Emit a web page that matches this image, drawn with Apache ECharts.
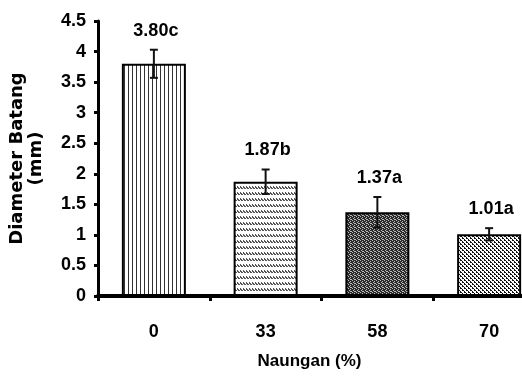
<!DOCTYPE html>
<html>
<head>
<meta charset="utf-8">
<script src="https://cdn.jsdelivr.net/npm/echarts@6/dist/echarts.min.js"></script>
<style>html,body{margin:0;padding:0;background:#fff;overflow:hidden}#c{width:545px;height:378px}</style>
</head>
<body>
<div id="c"></div>
<script>
var categories = ['0', '33', '58', '70'];
var means = [3.80, 1.87, 1.37, 1.01];
var errors = [0.23, 0.20, 0.25, 0.10];
var letters = ['c', 'b', 'a', 'a'];
var yTicks = [0, 0.5, 1, 1.5, 2, 2.5, 3, 3.5, 4, 4.5];

var FONT = 'Liberation Sans';

function makePattern(w, h, bg, fg, pts) {
  var c = document.createElement('canvas');
  c.width = w; c.height = h;
  var g = c.getContext('2d');
  g.fillStyle = bg; g.fillRect(0, 0, w, h);
  g.fillStyle = fg;
  pts.forEach(function (p) { g.fillRect(p[0], p[1], 1, 1); });
  return { image: c, repeat: 'repeat' };
}
var patterns = [
  makePattern(4, 4, '#ffffff', '#333333', [[0,0],[0,1],[0,2],[0,3]]),
  makePattern(3, 6, '#ffffff', '#555555', [[0,0],[1,1],[2,2],[0,1],[1,2]]),
  makePattern(4, 4, '#2a2a2a', '#bbbbbb', [[0,0],[2,1],[1,2],[3,3],[2,3]]),
  makePattern(4, 4, '#ffffff', '#111111', [[0,0],[1,0],[2,1],[2,2],[3,2],[0,3]])
];

var barData = means.map(function (v, i) {
  return { value: v, itemStyle: { color: patterns[i] } };
});
var errData = means.map(function (v, i) {
  return [i, v, errors[i], v.toFixed(2) + letters[i]];
});

var chart = echarts.init(document.getElementById('c'), null, { renderer: 'canvas' });
chart.setOption({
  animation: false,
  backgroundColor: '#ffffff',
  grid: { left: 97, right: 0, top: 21, bottom: 82, containLabel: false },
  xAxis: {
    type: 'category',
    data: categories,
    name: 'Naungan (%)',
    nameLocation: 'middle',
    nameGap: 57,
    nameTextStyle: { fontFamily: FONT, fontSize: 17, fontWeight: 'bold', color: '#000', padding: [0, 24, 0, 0] },
    axisLine: { lineStyle: { color: '#000', width: 4 } },
    axisTick: { show: true, length: 5, lineStyle: { color: '#000', width: 3 } },
    axisLabel: { margin: 27, fontFamily: FONT, fontSize: 18, fontWeight: 'bold', color: '#000' }
  },
  yAxis: {
    type: 'value',
    min: yTicks[0],
    max: yTicks[yTicks.length - 1],
    interval: 0.5,
    name: 'Diameter Batang\n(mm)',
    nameLocation: 'middle',
    nameGap: 52,
    nameTextStyle: { fontFamily: 'DejaVu Sans', fontSize: 18, fontWeight: 'bold', color: '#000', lineHeight: 19, align: 'center' },
    splitLine: { show: false },
    axisLine: { show: true, lineStyle: { color: '#000', width: 3 } },
    axisTick: { show: true, length: 4, lineStyle: { color: '#000', width: 3 } },
    axisLabel: { margin: 12, fontFamily: FONT, fontSize: 18, fontWeight: 'bold', color: '#000',
      formatter: function (v) { return String(v); } }
  },
  series: [
    {
      type: 'bar',
      data: barData,
      barWidth: 64,
      itemStyle: { borderColor: '#000', borderWidth: 2 },
      z: 2
    },
    {
      type: 'custom',
      data: errData,
      z: 5,
      renderItem: function (params, api) {
        var i = api.value(0), m = api.value(1), e = api.value(2);
        var top = api.coord([i, m + e]);
        var bot = api.coord([i, m - e]);
        var cap = 4;
        var st = { stroke: '#111', lineWidth: 2 };
        return {
          type: 'group',
          children: [
            { type: 'line', shape: { x1: top[0], y1: top[1], x2: bot[0], y2: bot[1] }, style: st },
            { type: 'line', shape: { x1: top[0] - cap, y1: top[1], x2: top[0] + cap, y2: top[1] }, style: st },
            { type: 'line', shape: { x1: bot[0] - cap, y1: bot[1], x2: bot[0] + cap, y2: bot[1] }, style: st },
            { type: 'text', x: top[0] + 2, y: top[1] - 10,
              style: { text: errData[params.dataIndex][3], align: 'center', verticalAlign: 'bottom',
                fontFamily: FONT, fontSize: 18, fontWeight: 'bold', fill: '#000' } }
          ]
        };
      }
    }
  ]
});
</script>
</body>
</html>
